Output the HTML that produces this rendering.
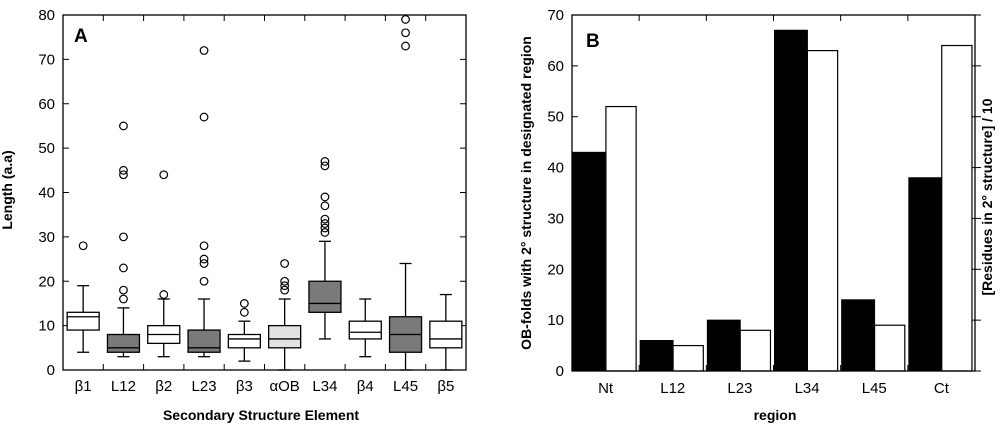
<!DOCTYPE html>
<html><head><meta charset="utf-8"><style>
body{margin:0;background:#fff;}
svg{font-family:"Liberation Sans",sans-serif;}
</style></head><body>
<svg id="s" width="1000" height="427" viewBox="0 0 1000 427">
<g id="A"></g>
<g id="B"></g>
</svg>
<script>
const cats=["β1","L12","β2","L23","β3","αOB","L34","β4","L45","β5"];
const wLo=[4,3,3,3,2,0,7,3,0,0];
const wHi=[19,14,16,16,11,16,29,16,24,17];
const q1=[9,4,6,4,5,5,13,7,4,5];
const q3=[13,8,10,9,8,10,20,11,12,11];
const med=[12,5,8,5,7,7,15,8.5,8,7];
const outliers=[[28],[16,18,23,30,44,45,55],[17,44],[20,24,25,28,57,72],[13,15],[18,19,20,24],[31,32,33,34,37,39,46,47],[],[73,76,79],[]];
const fills=["#fff","#7a7a7a","#fff","#7a7a7a","#fff","#e2e2e2","#7a7a7a","#fff","#7a7a7a","#fff"];
const yTicksA=[0,10,20,30,40,50,60,70,80];

const regions=["Nt","L12","L23","L34","L45","Ct"];
const blackVals=[43,6,10,67,14,38];
const whiteVals=[52,5,8,63,9,64];
const yTicksB=[0,10,20,30,40,50,60,70];

const NS="http://www.w3.org/2000/svg";
function el(p,t,a){const e=document.createElementNS(NS,t);for(const k in a)e.setAttribute(k,a[k]);p.appendChild(e);return e;}

// Panel A
const A=document.getElementById('A');
const ax0=63,ax1=466,ay0=370,ay1=15;
const yA=v=>ay0-(v/80)*(ay0-ay1);
const bw=(ax1-ax0)/cats.length;
const xA=i=>ax0+bw*(i+0.5);
yTicksA.forEach(t=>{
  const y=yA(t);
  let l=el(A,'line',{x1:ax0,x2:ax0+6,y1:y,y2:y,stroke:'#000','stroke-width':1});
  
  let r=el(A,'line',{x1:ax1-6,x2:ax1,y1:y,y2:y,stroke:'#000','stroke-width':1});
  
  let tx=el(A,'text',{x:ax0-8,y:y+5,'text-anchor':'end','font-size':15});tx.textContent=t;
  
});
for(let i=1;i<cats.length;i++){
  const x=ax0+bw*i;
  el(A,'line',{x1:x,x2:x,y1:ay0,y2:ay0-6,stroke:'#000'});
  el(A,'line',{x1:x,x2:x,y1:ay1,y2:ay1+6,stroke:'#000'});
}
cats.forEach((c,i)=>{
  const x=xA(i),h=16;
  const g=el(A,'g',{});
  
  el(g,'line',{x1:x,x2:x,y1:yA(wLo[i]),y2:yA(q1[i]),stroke:'#000','stroke-width':1.3});
  el(g,'line',{x1:x,x2:x,y1:yA(q3[i]),y2:yA(wHi[i]),stroke:'#000','stroke-width':1.3});
  el(g,'line',{x1:x-6,x2:x+6,y1:yA(wLo[i]),y2:yA(wLo[i]),stroke:'#000','stroke-width':1.3});
  el(g,'line',{x1:x-6,x2:x+6,y1:yA(wHi[i]),y2:yA(wHi[i]),stroke:'#000','stroke-width':1.3});
  el(g,'rect',{x:x-h,y:yA(q3[i]),width:2*h,height:yA(q1[i])-yA(q3[i]),fill:fills[i],stroke:'#000','stroke-width':1.3});
  el(g,'line',{x1:x-h,x2:x+h,y1:yA(med[i]),y2:yA(med[i]),stroke:'#000','stroke-width':1.3});
  outliers[i].forEach(o=>{
    const c2=el(g,'circle',{cx:x,cy:yA(o),r:3.8,fill:'none',stroke:'#000','stroke-width':1.2});
    
  });
  const t=el(A,'text',{x:x,y:391,'text-anchor':'middle','font-size':15});t.textContent=c;
  
});
let fr=el(A,'rect',{x:ax0,y:ay1,width:ax1-ax0,height:ay0-ay1,fill:'none',stroke:'#000','stroke-width':1.3});

let la=el(A,'text',{x:74,y:42,'font-size':19,'font-weight':'bold'});la.textContent='A';

let xt=el(A,'text',{x:261,y:420,'text-anchor':'middle','font-size':14,'font-weight':'bold'});xt.textContent='Secondary Structure Element';

let yt=el(A,'text',{x:0,y:0,'text-anchor':'middle','font-size':14,'font-weight':'bold',transform:'translate(12,190) rotate(-90)'});yt.textContent='Length (a.a)';


// Panel B
const B=document.getElementById('B');
const bx0=572,bx1=975,by0=371,by1=15;
const yB=v=>by0-(v/70)*(by0-by1);
const gw=(bx1-bx0)/regions.length;
yTicksB.forEach(t=>{
  const y=yB(t);
  el(B,'line',{x1:bx0,x2:bx0+6,y1:y,y2:y,stroke:'#000'});
  el(B,'line',{x1:bx1-6,x2:bx1+6,y1:y,y2:y,stroke:'#000'});
  let tx=el(B,'text',{x:bx0-8,y:y+5,'text-anchor':'end','font-size':15});tx.textContent=t;
  
});
for(let i=1;i<regions.length;i++){
  const x=bx0+gw*i;
  el(B,'line',{x1:x,x2:x,y1:by0,y2:by0-6,stroke:'#000'});
  el(B,'line',{x1:x,x2:x,y1:by1,y2:by1+6,stroke:'#000'});
}
regions.forEach((r,i)=>{
  const g0=bx0+gw*i;
  const b=el(B,'rect',{x:g0+1,y:yB(blackVals[i]),width:gw*0.49,height:by0-yB(blackVals[i]),fill:'#000',stroke:'#000'});
  
  const w=el(B,'rect',{x:g0+1+gw*0.49,y:yB(whiteVals[i]),width:gw*0.45,height:by0-yB(whiteVals[i]),fill:'#fff',stroke:'#000','stroke-width':1.2});
  
  const t=el(B,'text',{x:g0+gw*0.5,y:393,'text-anchor':'middle','font-size':15});t.textContent=r;
  
});
let fb=el(B,'rect',{x:bx0,y:by1,width:bx1-bx0,height:by0-by1,fill:'none',stroke:'#000','stroke-width':1.3});

let lb=el(B,'text',{x:586,y:47,'font-size':19,'font-weight':'bold'});lb.textContent='B';

let xb=el(B,'text',{x:775,y:420,'text-anchor':'middle','font-size':14,'font-weight':'bold'});xb.textContent='region';

let yb=el(B,'text',{x:0,y:0,'text-anchor':'middle','font-size':14,'font-weight':'bold',transform:'translate(531,193) rotate(-90)'});yb.textContent='OB-folds with 2° structure in designated region';

let yr=el(B,'text',{x:0,y:0,'text-anchor':'middle','font-size':14,'font-weight':'bold',transform:'translate(992,197) rotate(-90)'});yr.textContent='[Residues in 2° structure] / 10';

</script>
</body></html>
